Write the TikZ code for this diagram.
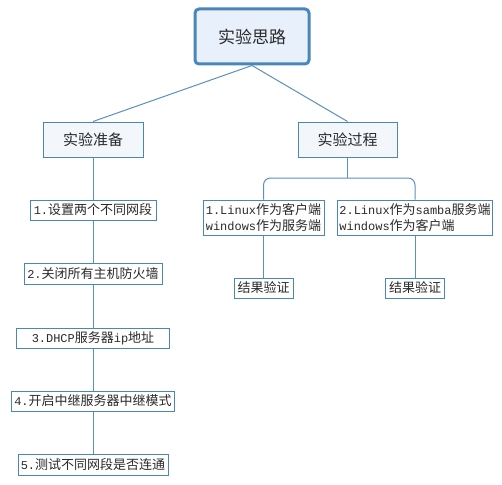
\documentclass[tikz,border=0pt]{standalone}
\usepackage{fontspec}
\setmainfont{Noto Sans CJK SC}
\newfontfamily\lat[Scale=0.92]{Liberation Mono}
\definecolor{bordc}{HTML}{4A86B8}
\definecolor{linec}{HTML}{5B8FC0}
\definecolor{rootfill}{HTML}{E8F0FB}
\definecolor{lvfill}{HTML}{F3F7FC}
\definecolor{txtc}{HTML}{2A2A2A}
\begin{document}
\begin{tikzpicture}[x=1pt,y=-1pt,
  box/.style={draw=bordc,line width=1pt,fill=white,text=txtc,inner sep=2pt,font=\fontsize{13}{14}\selectfont},
  rootbox/.style={box,line width=3pt,rounded corners=4pt,fill=rootfill,minimum width=114pt,minimum height=55pt,font=\fontsize{17}{19}\selectfont},
  lvbox/.style={box,fill=lvfill,minimum width=100pt,minimum height=35pt,font=\fontsize{15}{17}\selectfont},
  twoline/.style={box,minimum height=35pt,align=left,font=\fontsize{13}{16}\selectfont},
  conn/.style={draw=linec,line width=1pt}]
\useasboundingbox (0,0) rectangle (502,484);
\node[rootbox] (root) at (252,36.5) {实验思路};
\node[lvbox] (prep) at (93,139.5) {实验准备};
\node[lvbox,minimum width=99pt] (proc) at (347.5,139.5) {实验过程};
\node[box,minimum width=126pt,minimum height=20pt] (s1) at (93,210) {{\lat 1.}设置两个不同网段};
\node[box,minimum width=138pt,minimum height=21pt] (s2) at (93,273.5) {{\lat 2.}关闭所有主机防火墙};
\node[box,minimum width=153pt,minimum height=20pt] (s3) at (93,338) {{\lat 3.DHCP}服务器{\lat ip}地址};
\node[box,minimum width=163pt,minimum height=20pt] (s4) at (93,401) {{\lat 4.}开启中继服务器中继模式};
\node[box,minimum width=150pt,minimum height=21pt] (s5) at (93,464.5) {{\lat 5.}测试不同网段是否连通};
\node[twoline,minimum width=121pt] (pL) at (263.5,217.5) {{\lat 1.Linux}作为客户端\\{\lat windows}作为服务端};
\node[twoline,minimum width=154pt] (pR) at (415,217.5) {{\lat 2.Linux}作为{\lat samba}服务端\\{\lat windows}作为客户端};
\node[box,minimum width=59pt,minimum height=20pt] (r1) at (263.5,288) {结果验证};
\node[box,minimum width=59pt,minimum height=20pt] (r2) at (415,288) {结果验证};
\coordinate (mid) at (347.5,178);
\draw[conn] (root.south) -- (prep.north);
\draw[conn] (root.south) -- (proc.north);
\draw[conn] (prep.south) -- (s1.north);
\draw[conn] (s1.south) -- (s2.north);
\draw[conn] (s2.south) -- (s3.north);
\draw[conn] (s3.south) -- (s4.north);
\draw[conn] (s4.south) -- (s5.north);
\draw[conn] (proc.south) -- (mid);
\draw[conn,rounded corners=7pt] (pL.north) |- (mid) -| (pR.north);
\draw[conn] (pL.south) -- (r1.north);
\draw[conn] (pR.south) -- (r2.north);
\end{tikzpicture}
\end{document}
